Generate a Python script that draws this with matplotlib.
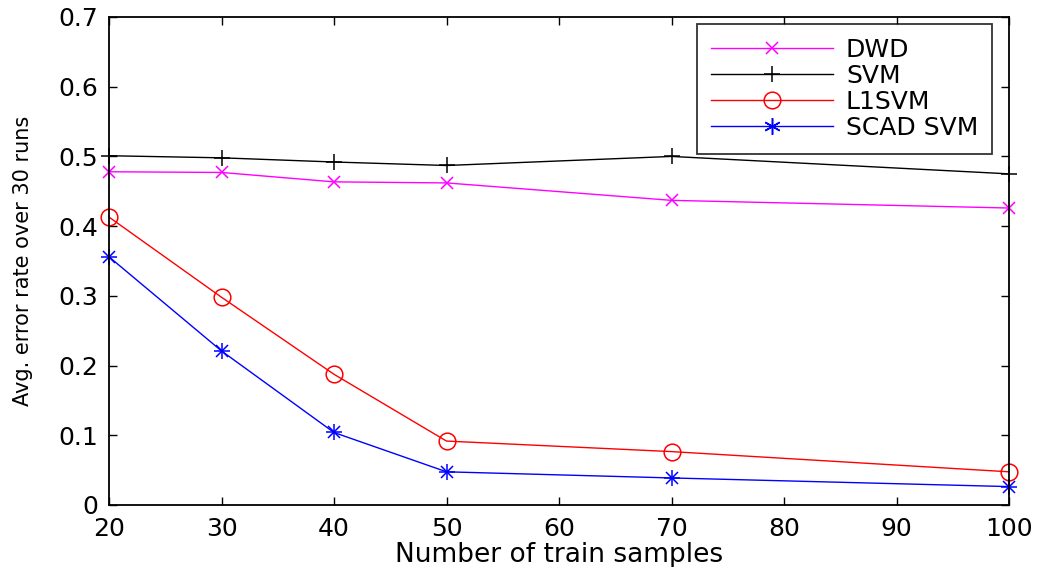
import matplotlib
matplotlib.use("Agg")
import matplotlib.pyplot as plt
from matplotlib.lines import Line2D

x = [20, 30, 40, 50, 70, 100]
dwd = [0.478, 0.477, 0.4635, 0.462, 0.437, 0.426]
svm = [0.501, 0.498, 0.492, 0.487, 0.500, 0.475]
l1svm = [0.413, 0.298, 0.1875, 0.0917, 0.0766, 0.0476]
scad = [0.356, 0.221, 0.104, 0.0476, 0.0388, 0.0264]
xticks = [20, 30, 40, 50, 60, 70, 80, 90, 100]
yticks = [0, 0.1, 0.2, 0.3, 0.4, 0.5, 0.6, 0.7]

plt.rcParams['font.family'] = ['DejaVu Sans']
fig = plt.figure(figsize=(10.42, 5.67), dpi=100)
ax = fig.add_axes([109/1042, 1-505/567, 900/1042, 488/567])

ax.plot(x, dwd, color='#ff00ff', marker='x', ms=9, mew=1.1, lw=1.0, label='DWD', clip_on=False)
ax.plot(x, svm, color='black', marker='+', ms=12, mew=1.1, lw=1.0, label='SVM', clip_on=False)
ax.plot(x, l1svm, color='#ff0000', marker='o', ms=12, mfc='none', mew=1.1, lw=1.0, label='L1SVM', clip_on=False)
ax.plot(x, scad, color='#0000ff', lw=1.0, clip_on=False)
ax.plot(x, scad, color='#0000ff', marker='+', ms=12, mew=1.1, lw=0, clip_on=False)
ax.plot(x, scad, color='#0000ff', marker='x', ms=9, mew=1.1, lw=0, clip_on=False)
h_scad = Line2D([], [], color='#0000ff', marker=(6, 2, 0), ms=12, mew=1.1, lw=1.0)

ax.set_xlim(20, 100)
ax.set_ylim(0, 0.7)
ax.set_xticks(xticks)
ax.set_yticks(yticks)
ax.set_xticklabels([str(v) for v in xticks])
ax.set_yticklabels(['0'] + ['%.1f' % v for v in yticks[1:]])
ax.tick_params(direction='in', top=True, right=True, length=6, width=1, labelsize=18)
ax.tick_params(axis='x', pad=9)
ax.tick_params(axis='y', pad=8)
for s in ax.spines.values():
    s.set_linewidth(1.3)

ax.set_xlabel('Number of train samples', fontsize=19, labelpad=0)
ax.set_ylabel('Avg. error rate over 30 runs', fontsize=15, labelpad=18)

handles, labels = ax.get_legend_handles_labels()
handles = handles[:3] + [h_scad]
labels = labels[:3] + ['SCAD SVM']
leg = ax.legend(handles, labels, loc='upper right',
                bbox_to_anchor=(992/1042, 1-24/567), bbox_transform=fig.transFigure,
                borderaxespad=0, fontsize=18, frameon=True, fancybox=False, edgecolor='black',
                handlelength=4.9, labelspacing=0.08, borderpad=0.55, handletextpad=0.5)
leg.get_frame().set_linewidth(1.3)

fig.savefig('out.png', dpi=100)
